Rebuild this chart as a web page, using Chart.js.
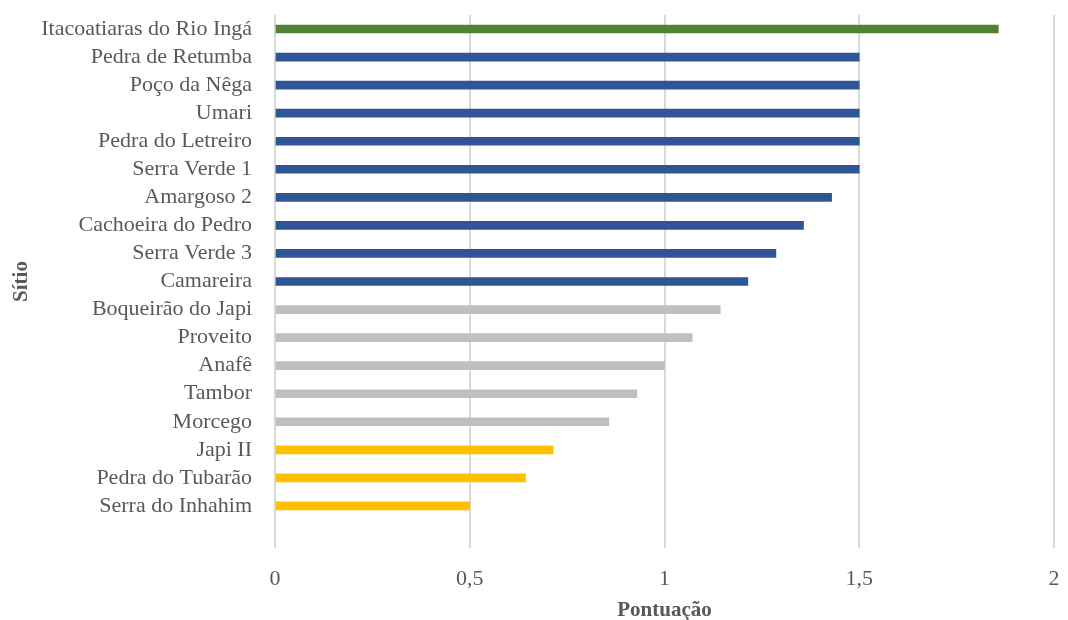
<!DOCTYPE html>
<html>
<head>
<meta charset="utf-8">
<script src="https://cdn.jsdelivr.net/npm/chart.js@4.4.0/dist/chart.umd.min.js"></script>
<style>
  html, body { margin: 0; padding: 0; background: #fff; }
  #wrap { width: 1068px; height: 620px; position: relative; }
</style>
</head>
<body>
<div id="wrap"><canvas id="grafico"></canvas></div>
<script>
// sítios, do topo para a base (o último é a linha vazia no fim do eixo)
const sitios = [
  'Itacoatiaras do Rio Ingá', 'Pedra de Retumba', 'Poço da Nêga', 'Umari',
  'Pedra do Letreiro', 'Serra Verde 1', 'Amargoso 2', 'Cachoeira do Pedro',
  'Serra Verde 3', 'Camareira', 'Boqueirão do Japi', 'Proveito', 'Anafê',
  'Tambor', 'Morcego', 'Japi II', 'Pedra do Tubarão', 'Serra do Inhahim', '',
];

const pontuacao = [
  1.857, 1.5, 1.5, 1.5, 1.5, 1.5, 1.429, 1.357, 1.286, 1.214,
  1.143, 1.071, 1.0, 0.929, 0.857, 0.714, 0.643, 0.5, null,
];

const grupo = [
  'verde', 'azul', 'azul', 'azul', 'azul', 'azul', 'azul', 'azul', 'azul', 'azul',
  'cinza', 'cinza', 'cinza', 'cinza', 'cinza', 'amarelo', 'amarelo', 'amarelo', 'cinza',
];

const CORES = {
  verde: '#548235',
  azul: '#2F5597',
  cinza: '#BFBFBF',
  amarelo: '#FFC000',
};

const FONTE = "'Liberation Serif', 'DejaVu Serif', serif";
const COR_TEXTO = '#595959';

new Chart(document.getElementById('grafico'), {
  type: 'bar',
  data: {
    labels: sitios,
    datasets: [{
      data: pontuacao,
      backgroundColor: grupo.map((g) => CORES[g]),
      barThickness: 8,
    }],
  },
  options: {
    indexAxis: 'y',
    responsive: true,
    maintainAspectRatio: false,
    animation: false,
    layout: { padding: { top: 15, right: 14, bottom: 0, left: 4 } },
    plugins: {
      legend: { display: false },
      tooltip: { enabled: false },
    },
    scales: {
      x: {
        min: 0,
        max: 2,
        afterFit: (escala) => {
          escala.height = 72;
          escala.paddingLeft = 0;
          escala.paddingRight = 0;
        },
        ticks: {
          stepSize: 0.5,
          padding: 18,
          color: COR_TEXTO,
          font: { family: FONTE, size: 22 },
          callback: (v) => String(v).replace('.', ','),
        },
        grid: { color: '#D9D9D9', lineWidth: 2, drawTicks: false },
        border: { display: false },
        title: {
          display: true,
          text: 'Pontuação',
          color: COR_TEXTO,
          font: { family: FONTE, size: 21, weight: 'bold' },
          padding: { top: 0, bottom: -3 },
        },
      },
      y: {
        afterFit: (escala) => {
          escala.width = 271;
          escala.paddingTop = 0;
          escala.paddingBottom = 0;
        },
        ticks: {
          padding: 15,
          color: COR_TEXTO,
          font: { family: FONTE, size: 22 },
          autoSkip: false,
        },
        grid: { display: false },
        border: { display: false },
        title: {
          display: true,
          text: 'Sítio',
          color: COR_TEXTO,
          font: { family: FONTE, size: 21, weight: 'bold' },
          padding: { top: 5 },
        },
      },
    },
  },
});
</script>
</body>
</html>
